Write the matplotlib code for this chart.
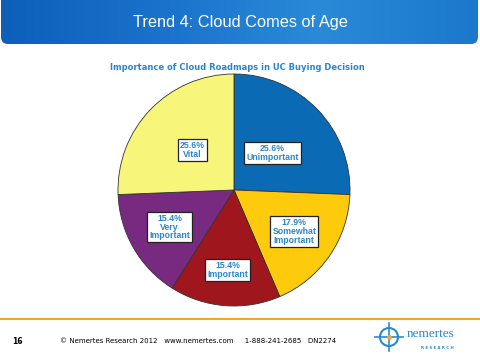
import numpy as np
import matplotlib.pyplot as plt
from matplotlib.colors import LinearSegmentedColormap
from matplotlib.patches import FancyBboxPatch, Circle

# Slice data (clockwise from 12 o'clock)
labels = ['Unimportant', 'Somewhat\nImportant', 'Important', 'Very\nImportant', 'Vital']
shares = [25.6, 17.9, 15.4, 15.4, 25.6]
colors = ['#0b6ab4', '#fdcb0c', '#a0161d', '#772a7f', '#f7f57a']
label_dist = [0.46, 0.63, 0.69, 0.64, 0.50]

W, H = 481, 361
fig = plt.figure(figsize=(W / 100, H / 100), dpi=100)
fig.patch.set_facecolor('white')

# background axes in pixel coordinates (y down)
bg = fig.add_axes([0, 0, 1, 1])
bg.set_xlim(0, W)
bg.set_ylim(H, 0)
bg.axis('off')

# header banner with gradient, rounded bottom corners only
grad = np.linspace(0, 1, 256).reshape(1, -1)
banner = FancyBboxPatch((1, -30), 477, 74, boxstyle='round,pad=0,rounding_size=7',
                        facecolor='none', edgecolor='none')
bg.add_patch(banner)
cmap = LinearSegmentedColormap.from_list('b', ['#0d5fb8', '#1a72cb', '#2a8ad8', '#1b78cc'])
im = bg.imshow(grad, extent=(0, 479, 44, 0), cmap=cmap, aspect='auto', zorder=1)
im.set_clip_path(banner)
bg.text(240, 22, 'Trend 4: Cloud Comes of Age', color='white', fontsize=11.8,
        ha='center', va='center', family='Liberation Sans', zorder=2)

# chart title
bg.text(237, 68, 'Importance of Cloud Roadmaps in UC Buying Decision', color='#2a86cc',
        fontsize=6.0, fontweight='bold', ha='center', va='center')

# footer
bg.plot([0, W], [319, 319], color='#f5a623', lw=1.5)
bg.text(12, 341, '16', fontsize=5.5, fontweight='bold', va='center')
bg.text(60, 341, '© Nemertes Research 2012   www.nemertes.com     1-888-241-2685   DN2274',
        fontsize=5.0, va='center')

# logo
bg.add_patch(Circle((389, 337), 9, facecolor='none', edgecolor='#2a8ad0', lw=1.5))
bg.plot([375, 403], [337, 337], color='#2a8ad0', lw=1.2)
bg.plot([389, 389], [323, 351], color='#2a8ad0', lw=1.2)
bg.plot(389, 337, 'o', color='#f5a623', ms=2.5)
bg.text(407, 334, 'nemertes', fontsize=9.5, family='Liberation Serif', color='#2a8ad0',
        va='center', ha='left')
bg.text(437, 348, 'R E S E A R C H', fontsize=2.8, color='#2a8ad0', ha='center',
        va='center', fontweight='bold')

# pie
cx, cy, r = 234, 190, 116
pax = fig.add_axes([(cx - r) / W, (H - cy - r) / H, 2 * r / W, 2 * r / H])
wedges, _ = pax.pie(shares, colors=colors, startangle=90, counterclock=False,
                    wedgeprops=dict(edgecolor='#333333', linewidth=0.6))
pax.set_xlim(-1, 1)
pax.set_ylim(-1, 1)
pax.axis('off')

for w, lab, val, d in zip(wedges, labels, shares, label_dist):
    ang = np.deg2rad((w.theta1 + w.theta2) / 2)
    pax.text(d * np.cos(ang), d * np.sin(ang), f'{val}%\n{lab}', ha='center', va='center',
             fontsize=6.3, fontweight='bold', color='#2a86cc', linespacing=0.95,
             family='Liberation Sans',
             bbox=dict(boxstyle='square,pad=0.25', facecolor='white', edgecolor='#222222', lw=0.9))

fig.savefig('out.png', dpi=100)
